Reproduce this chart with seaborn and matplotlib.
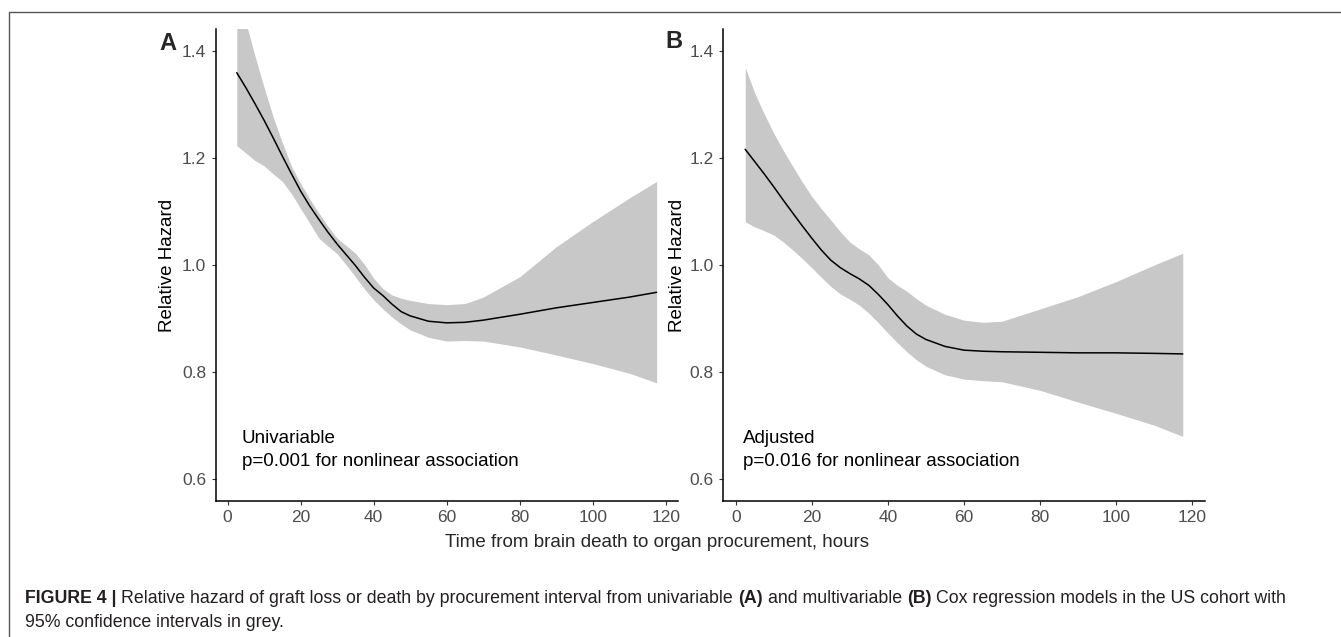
import matplotlib
matplotlib.use("Agg")
import matplotlib.pyplot as plt
from matplotlib.lines import Line2D
from matplotlib.ticker import FormatStrFormatter
import seaborn as sns

# values
hours = [2.5, 5, 7.5, 10, 12.5, 15, 17.5, 20, 22.5, 25, 27.5, 30, 32.5, 35, 37.5, 40,
         42.5, 45, 47.5, 50, 55, 60, 65, 70, 80, 90, 100, 110, 117.5]

hr_a = [1.359, 1.331, 1.301, 1.270, 1.237, 1.203, 1.170, 1.138, 1.110, 1.085, 1.061, 1.039,
        1.019, 0.999, 0.977, 0.957, 0.943, 0.927, 0.913, 0.905, 0.895, 0.892, 0.893, 0.897,
        0.908, 0.920, 0.930, 0.940, 0.949]
lo_a = [1.223, 1.209, 1.195, 1.185, 1.170, 1.156, 1.133, 1.105, 1.078, 1.050, 1.035, 1.021,
        1.000, 0.978, 0.955, 0.935, 0.918, 0.903, 0.890, 0.879, 0.865, 0.858, 0.859, 0.858,
        0.847, 0.832, 0.816, 0.798, 0.780]
hi_a = [1.515, 1.453, 1.390, 1.331, 1.276, 1.228, 1.184, 1.152, 1.123, 1.097, 1.072, 1.050,
        1.036, 1.022, 1.001, 0.975, 0.956, 0.944, 0.938, 0.934, 0.928, 0.926, 0.928, 0.940,
        0.978, 1.034, 1.081, 1.125, 1.156]

hr_b = [1.216, 1.193, 1.170, 1.146, 1.121, 1.097, 1.073, 1.050, 1.028, 1.009, 0.995, 0.984,
        0.974, 0.962, 0.945, 0.926, 0.905, 0.886, 0.871, 0.861, 0.848, 0.841, 0.839, 0.838,
        0.837, 0.836, 0.836, 0.835, 0.834]
lo_b = [1.081, 1.071, 1.064, 1.056, 1.043, 1.028, 1.012, 0.995, 0.977, 0.960, 0.946, 0.936,
        0.925, 0.910, 0.892, 0.873, 0.855, 0.838, 0.823, 0.811, 0.795, 0.787, 0.784, 0.782,
        0.766, 0.744, 0.723, 0.701, 0.680]
hi_b = [1.369, 1.321, 1.282, 1.246, 1.214, 1.184, 1.155, 1.128, 1.105, 1.084, 1.062, 1.043,
        1.030, 1.019, 1.000, 0.976, 0.962, 0.951, 0.937, 0.925, 0.908, 0.897, 0.893, 0.895,
        0.918, 0.941, 0.969, 1.000, 1.022]

x_ticks = [0, 20, 40, 60, 80, 100, 120]
y_ticks = [0.6, 0.8, 1.0, 1.2, 1.4]

sns.set_style("ticks")
plt.rcParams['font.family'] = ['Liberation Sans', 'DejaVu Sans']

W, H = 1341, 637
fig = plt.figure(figsize=(W / 100, H / 100), dpi=100)
ax_a = fig.add_axes([0.1609, 0.2140, 0.3444, 0.7400])
ax_b = fig.add_axes([0.5394, 0.2140, 0.3589, 0.7400])

panels = [
    (ax_a, hr_a, lo_a, hi_a, "Univariable", "p=0.001 for nonlinear association", 3.9, -0.1055),
    (ax_b, hr_b, lo_b, hi_b, "Adjusted", "p=0.016 for nonlinear association", 2.0, -0.0962),
]
for ax, hr, lo, hi, model, ptxt, tx, ylab_x in panels:
    ax.fill_between(hours, lo, hi, color="#C8C8C8", lw=0, zorder=1)
    sns.lineplot(x=hours, y=hr, ax=ax, color="black", linewidth=1.1, zorder=2)
    ax.set_xlim(-3.25, 123.25)
    ax.set_ylim(0.56, 1.44)
    ax.set_xticks(x_ticks)
    ax.set_yticks(y_ticks)
    ax.yaxis.set_major_formatter(FormatStrFormatter('%.1f'))
    ax.tick_params(length=3, width=0.8, color="#333333", labelcolor="#4D4D4D",
                   labelsize=12.5, pad=4)
    sns.despine(ax=ax)
    for side in ["left", "bottom"]:
        ax.spines[side].set_linewidth(1.1)
        ax.spines[side].set_color("black")
    ax.set_xlabel("")
    ax.set_ylabel("Relative Hazard", fontsize=13.5, color="black", va="center")
    ax.yaxis.set_label_coords(ylab_x, 0.5)
    ax.text(tx, 0.6675, model, fontsize=13.5, color="black", va="baseline", ha="left")
    ax.text(tx, 0.6252, ptxt, fontsize=13.5, color="black", va="baseline", ha="left")

fig.text(159 / W, 1 - 50 / H, "A", fontsize=17, fontweight="bold", va="baseline", ha="left")
fig.text(665 / W, 1 - 48 / H, "B", fontsize=17, fontweight="bold", va="baseline", ha="left")

fig.text(656.7 / W, 1 - 547.3 / H, "Time from brain death to organ procurement, hours",
         fontsize=13.5, ha="center", va="baseline")

# frame around the figure panel
fig.add_artist(Line2D([9.3 / W, 1], [1 - 12.3 / H] * 2, transform=fig.transFigure,
                      color="#555555", lw=1.0))
fig.add_artist(Line2D([9.3 / W] * 2, [0, 1 - 12.3 / H], transform=fig.transFigure,
                      color="#555555", lw=1.0))

# caption with bold pieces
cap_size = 12.75
line1 = [("FIGURE 4 |", "bold"),
         ("Relative hazard of graft loss or death by procurement interval from univariable", "normal"),
         ("(A)", "bold"), ("and multivariable", "normal"), ("(B)", "bold"),
         ("Cox regression models in the US cohort with", "normal")]
fig.canvas.draw()
r = fig.canvas.get_renderer()
x = 25
gap = 0.278 * cap_size * 100 / 72
for s, w in line1:
    t = fig.text(x / W, 1 - 602.7 / H, s, fontsize=cap_size, fontweight=w, color="#231F20",
                 ha="left", va="baseline")
    bb = t.get_window_extent(renderer=r)
    x = bb.x1 + gap
fig.text(25 / W, 1 - 626.7 / H, "95% confidence intervals in grey.", fontsize=cap_size,
         color="#231F20", ha="left", va="baseline")

fig.savefig("out.png", dpi=100)
